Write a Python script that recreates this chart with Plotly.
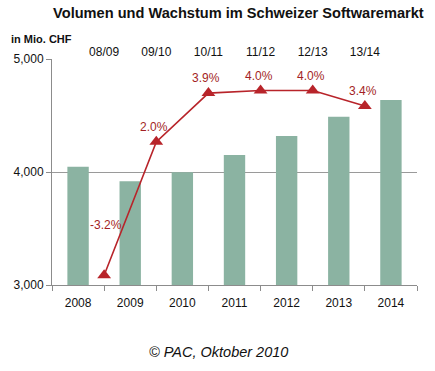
import plotly.graph_objects as go

years = ["2008", "2009", "2010", "2011", "2012", "2013", "2014"]
volume = [4047, 3918, 3997, 4151, 4318, 4490, 4638]
periods = ["08/09", "09/10", "10/11", "11/12", "12/13", "13/14"]
growth = [-3.2, 2.0, 3.9, 4.0, 4.0, 3.4]
growth_labels = ["-3.2%", "2.0%", "3.9%", "4.0%", "4.0%", "3.4%"]

bar_x = list(range(len(years)))
line_x = [i + 0.5 for i in range(len(periods))]

FONT = "Liberation Sans, Arial, sans-serif"
RED = "#B8242A"
LABEL_RED = "#A31F25"

fig = go.Figure()
fig.add_trace(go.Bar(
    x=bar_x, y=volume, width=0.41,
    marker=dict(color="#8BB3A2", line=dict(width=0)),
    xaxis="x", yaxis="y", showlegend=False,
))
fig.add_trace(go.Scatter(
    x=line_x, y=growth, mode="lines+markers",
    line=dict(color=RED, width=1.6),
    marker=dict(symbol="triangle-up", size=12, color=RED),
    xaxis="x2", yaxis="y2", showlegend=False,
))

for i, (xv, yv, t) in enumerate(zip(line_x, growth, growth_labels)):
    shift = 50 if i == 0 else 15
    fig.add_annotation(x=xv, y=yv, xref="x2", yref="y2", text=t,
                       showarrow=False, yshift=shift, xshift=2 if i == 0 else -2,
                       font=dict(family=FONT, size=12, color=LABEL_RED))

fig.update_layout(
    width=435, height=371,
    margin=dict(l=52, r=18, t=59, b=86),
    plot_bgcolor="white", paper_bgcolor="white",
    font=dict(family=FONT, size=12, color="#111"),
    title=dict(text="<b>Volumen und Wachstum im Schweizer Softwaremarkt</b>",
               x=0.548, xanchor="center", y=1 - 13 / 371, yanchor="middle",
               font=dict(family=FONT, size=14.6, color="#111")),
    bargap=0.6,
    xaxis=dict(
        range=[-0.5, 6.5], tickmode="array", tickvals=bar_x, ticktext=years,
        showline=True, linecolor="#8c8c8c", linewidth=1, automargin=False,
        ticks="", showgrid=False, zeroline=False, ticklabelstandoff=7,
        minor=dict(ticks="outside", tick0=-0.5, dtick=1, ticklen=5,
                   tickcolor="#8c8c8c", showgrid=False),
        tickfont=dict(size=12, color="#111"),
    ),
    xaxis2=dict(
        range=[-0.5, 6.5], overlaying="x", side="top", anchor="y2",
        tickmode="array", tickvals=line_x, ticktext=periods, automargin=False,
        showline=False, ticks="", showgrid=False, zeroline=False,
        tickfont=dict(size=12, color="#111"),
    ),
    yaxis=dict(
        range=[3000, 5000], tickmode="array", tickvals=[3000, 4000, 5000],
        tickformat=",", showline=True, linecolor="#8c8c8c", linewidth=1,
        ticks="outside", ticklen=5, tickcolor="#8c8c8c", automargin=False,
        showgrid=True, gridcolor="#9a9a9a", gridwidth=1, zeroline=False,
        tickfont=dict(size=12, color="#111"),
    ),
    yaxis2=dict(
        range=[-3.58, 5.23], overlaying="y", side="right", automargin=False,
        visible=False, showgrid=False, zeroline=False,
    ),
)

fig.add_annotation(text="<b>in Mio. CHF</b>", xref="paper", yref="paper",
                   x=0, xshift=-43, y=1.0, yshift=12, xanchor="left", yanchor="bottom",
                   showarrow=False, font=dict(family=FONT, size=11, color="#111"))

fig.add_annotation(text="<i>© PAC, Oktober 2010</i>", xref="paper", yref="paper",
                   x=0.455, y=0, yshift=-57, xanchor="center", yanchor="top",
                   showarrow=False, font=dict(family=FONT, size=14.5, color="#111"))

fig.write_html("out.html", config={"displayModeBar": False},
               post_script="document.body.style.margin='0';document.body.style.padding='0';")
